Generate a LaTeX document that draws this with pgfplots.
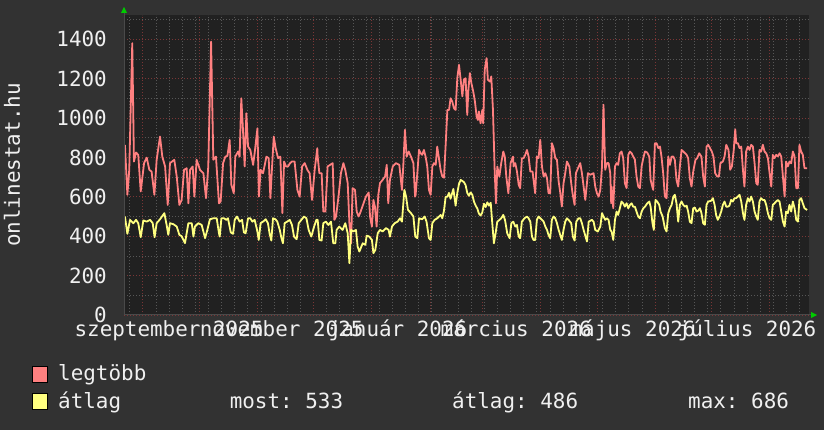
\documentclass[border=0pt]{standalone}
\usepackage{fontspec}
\setmainfont{DejaVu Sans Mono}
\usepackage{pgfplots}
\pgfplotsset{compat=1.18}
\usepackage{pgfplotstable}
\frenchspacing

\definecolor{canvas}{HTML}{323232}
\definecolor{plotbg}{HTML}{212121}
\definecolor{gridminor}{HTML}{575757}
\definecolor{gridmajor}{HTML}{7A3636}
\definecolor{fontc}{HTML}{F0F0F0}
\definecolor{axisc}{HTML}{4A4A4A}
\definecolor{maxc}{HTML}{FF8080}
\definecolor{avgc}{HTML}{FFFF80}
\definecolor{arrowc}{HTML}{00CC00}
\newcommand\rrdfont{\fontsize{21}{21}\selectfont}

% day 0 = 2025-08-22, one point per vertex
\pgfplotstableread{
day val
0.5 864
1.8 610
2.8 737
4.4 1380
5.3 779
6.4 825
7.6 813
8.9 627
10.7 771
12.1 799
13.5 737
14.7 728
16.2 610
17.4 788
19.2 906
20.4 804
21.9 754
23.3 559
24.5 771
26.8 788
28.1 703
29.5 559
30.7 584
32.0 737
33.4 745
34.3 567
35.2 737
36.6 754
37.5 601
38.7 788
40.5 737
42.3 720
43.7 593
44.9 754
46.4 1388
47.6 788
49.0 804
50.6 567
51.5 576
52.8 771
54.0 804
55.1 808
56.3 889
57.2 661
58.5 618
59.3 804
60.8 830
61.6 804
62.5 1100
63.4 940
64.3 754
65.2 1024
66.1 855
67.3 838
68.8 762
69.6 821
71.1 948
71.9 601
72.8 737
74.1 720
75.9 804
77.1 796
78.0 593
78.9 754
79.8 906
80.8 847
82.1 796
83.3 804
84.4 517
85.3 779
86.3 754
87.4 754
88.5 771
89.5 779
90.9 779
92.4 635
93.6 601
94.9 754
96.3 771
97.7 737
98.9 720
100.2 584
101.6 737
103.0 847
103.2 804
104.1 720
105.3 720
106.2 525
107.3 525
108.5 754
109.8 762
111.2 771
112.1 483
113.0 500
114.4 610
115.6 720
116.9 771
117.9 737
119.2 669
120.1 466
121.0 364
121.8 644
123.1 635
124.0 525
125.0 500
125.9 520
128.9 601
130.4 622
131.1 500
132.1 449
132.9 584
133.7 550
134.6 449
135.5 610
136.4 669
137.8 686
139.1 703
140.0 762
140.8 567
141.7 686
143.2 754
144.9 771
146.7 762
148.1 635
148.8 754
149.7 940
150.6 804
151.7 830
152.9 804
154.2 771
155.1 601
155.4 610
156.3 720
157.2 838
158.1 821
158.9 813
159.8 838
160.7 804
161.6 754
162.5 635
163.4 610
164.3 754
165.2 771
166.1 762
166.9 855
167.8 796
168.7 737
169.6 703
170.5 697
171.4 864
172.3 1041
173.2 1041
174.0 1100
174.9 1084
175.8 1050
176.7 1041
177.6 1202
178.5 1270
179.4 1194
180.3 1110
181.1 1194
182.0 1202
182.9 1016
183.5 1143
184.3 1228
185.1 1177
186.1 1134
187.0 1084
187.9 1007
188.6 990
189.1 1033
190.0 973
190.9 1041
191.4 973
192.2 1244
193.2 1304
193.9 1194
195.0 1185
195.7 1211
196.6 1041
197.5 737
198.2 567
198.9 754
200.0 703
201.0 771
202.1 830
202.9 804
203.7 703
204.8 618
206.0 771
207.3 804
207.6 754
208.5 771
209.4 728
210.3 661
211.1 644
212.0 796
212.9 796
213.8 813
214.7 838
215.6 804
216.5 728
217.7 728
219.1 618
220.0 804
220.9 796
221.8 889
222.7 754
223.6 703
224.5 720
225.4 694
226.2 618
227.1 618
228.0 872
228.9 847
229.8 796
230.7 788
231.6 678
232.5 618
233.3 551
234.2 669
235.1 720
236.0 779
237.3 754
238.3 669
239.0 618
240.1 559
240.8 720
241.9 745
243.1 771
244.0 720
244.9 652
245.8 584
247.2 720
248.4 712
250.2 720
251.1 652
252.0 618
252.9 601
253.8 635
254.7 754
255.5 1067
256.4 737
257.3 771
258.2 771
259.1 720
259.6 567
259.8 652
260.7 542
261.6 754
262.5 771
263.3 762
264.2 821
265.1 830
266.0 796
266.9 669
267.8 644
268.7 813
269.6 830
270.5 821
271.3 805
272.2 790
273.1 703
274.0 652
274.9 644
275.8 754
276.7 796
277.6 830
278.8 825
279.9 804
280.6 686
281.5 652
282.0 635
282.9 872
283.8 872
284.7 847
285.6 855
286.4 804
287.3 720
288.2 601
289.1 593
290.0 804
290.9 762
291.8 804
292.7 804
293.5 788
294.4 686
295.3 652
296.2 754
297.1 838
298.0 830
299.8 813
300.6 796
301.5 694
302.4 652
303.3 728
304.5 788
305.4 796
306.5 821
307.7 804
308.6 703
309.5 652
310.4 855
311.3 864
313.2 830
314.1 804
315.0 720
316.1 703
317.0 703
317.8 771
319.1 779
320.0 804
320.9 864
322.1 838
323.0 737
323.9 754
324.9 838
325.7 943
326.2 872
327.1 872
328.0 847
328.9 855
329.8 737
330.6 652
331.5 830
332.4 855
333.3 838
334.2 864
335.1 855
336.0 771
336.9 669
337.7 661
338.6 838
339.5 830
340.4 864
341.3 830
342.2 821
343.1 796
344.0 720
344.9 652
345.7 813
346.6 796
347.5 813
348.4 805
349.3 821
350.2 804
351.1 703
352.0 601
352.8 779
353.7 754
354.6 779
355.5 770
356.4 830
357.3 805
358.2 644
359.1 644
359.9 864
360.8 830
361.7 813
362.6 745
364.0 745
}\maxdata

\pgfplotstableread{
day val
0.5 500
1.8 412
3.2 483
5.0 466
6.4 483
7.6 466
8.9 395
10.3 480
12.1 474
13.9 483
15.3 466
16.3 395
17.4 466
19.2 486
21.5 517
22.7 458
23.6 407
24.5 466
26.3 461
28.1 449
29.5 407
30.7 400
32.5 365
34.3 466
36.1 466
37.0 398
37.8 449
39.6 466
41.4 457
43.2 390
44.4 432
45.8 486
47.6 491
49.4 491
50.6 415
51.0 398
51.9 491
53.3 491
54.5 483
55.4 491
56.9 419
58.1 412
59.0 483
60.2 500
61.6 474
62.9 483
63.9 419
64.8 415
66.1 491
67.3 491
68.4 474
69.6 483
70.9 432
71.8 381
72.8 466
74.1 474
75.5 486
76.7 466
77.6 412
78.5 378
79.4 491
80.7 486
81.7 474
83.0 432
83.9 390
84.7 364
85.6 466
86.9 474
88.3 483
89.5 457
90.6 398
92.0 385
93.1 466
94.5 483
95.9 500
97.2 491
98.4 432
99.8 398
101.3 449
102.5 483
103.2 483
104.1 381
105.3 378
106.2 466
107.6 474
108.9 457
110.3 474
111.5 364
112.6 364
113.3 432
114.7 449
116.5 432
117.9 466
119.2 415
120.1 263
121.0 432
122.2 424
123.6 432
124.5 347
125.4 322
127.2 364
128.6 356
129.3 403
130.7 398
132.1 381
132.9 314
133.9 330
135.2 415
136.4 432
137.8 424
139.6 441
141.0 432
141.7 398
142.8 449
144.2 466
145.8 474
147.1 491
148.1 474
149.4 635
150.3 601
151.3 534
152.9 517
154.2 500
155.2 398
156.3 390
157.2 491
158.9 486
160.2 500
161.2 474
162.5 390
163.4 381
164.3 466
165.5 483
166.9 491
168.7 508
169.6 491
170.5 530
171.4 600
172.3 600
173.2 620
174.0 590
175.5 640
176.7 555
177.6 620
178.5 665
179.4 686
180.3 680
181.1 675
182.0 660
182.9 620
183.8 605
184.7 622
185.6 610
186.5 575
187.4 555
188.3 540
189.1 515
190.0 505
190.9 520
191.8 565
192.7 548
193.6 572
194.5 555
195.4 570
196.2 470
197.1 364
198.0 415
198.9 474
200.1 483
201.0 491
202.1 508
203.0 483
204.2 415
205.5 390
206.4 466
207.4 474
208.5 449
209.4 457
210.3 398
211.1 390
212.0 474
213.4 491
214.7 500
215.6 491
216.5 474
217.4 398
218.2 381
219.1 381
220.0 483
220.9 500
221.8 491
222.7 483
223.6 474
224.5 449
225.4 432
226.2 407
227.1 390
228.0 483
228.9 500
229.8 491
230.7 466
231.6 432
233.3 381
234.2 432
235.1 474
236.0 491
236.9 483
238.3 466
239.2 398
240.1 378
241.0 474
242.2 491
243.1 491
244.0 466
244.9 432
246.7 373
247.6 474
249.3 483
250.2 474
251.1 432
252.5 424
253.8 449
254.7 517
255.5 500
256.4 483
257.3 491
258.2 483
259.1 432
259.8 424
260.7 381
261.6 483
262.5 525
263.3 508
264.2 542
265.1 576
266.0 567
266.9 550
267.8 567
268.7 542
269.6 559
270.5 567
271.3 550
272.2 550
273.1 525
274.0 500
274.9 491
275.8 525
276.7 542
277.6 550
278.8 567
279.9 576
280.6 550
281.6 466
282.3 432
283.2 584
284.1 576
285.2 559
285.9 525
287.0 500
288.2 441
289.1 424
290.0 517
290.9 542
291.8 559
292.7 601
293.5 610
294.4 567
295.3 474
296.2 559
297.1 576
298.0 559
298.9 550
299.8 555
300.6 525
301.5 474
302.4 466
303.3 542
304.2 545
305.1 525
306.0 530
306.9 542
307.7 517
308.6 466
309.5 458
310.4 559
311.3 576
312.9 580
313.8 593
314.7 559
315.5 508
316.4 483
317.3 500
318.2 525
319.1 559
320.0 576
320.9 550
321.8 550
322.6 555
323.5 584
324.4 576
325.3 593
326.2 593
327.1 601
328.0 610
328.9 576
329.8 517
330.6 483
331.5 559
332.4 593
333.3 576
334.2 601
335.1 576
336.0 525
336.9 500
337.7 483
338.6 576
339.5 593
340.4 584
341.3 584
342.2 559
343.1 517
344.0 491
344.9 483
345.7 559
346.6 567
347.5 576
348.4 584
349.3 576
350.2 525
351.1 474
352.0 449
352.8 525
353.7 517
354.6 559
355.5 525
356.4 576
357.3 542
358.2 483
359.1 474
359.9 584
360.8 593
361.7 567
362.6 542
364.0 533
}\avgdata

\begin{document}
\begin{tikzpicture}
\fill[canvas] (0,0) rectangle (824bp,430bp);

\begin{axis}[
    at={(124bp,115bp)}, anchor=south west,
    scale only axis, width=685bp, height=300bp,
    xmin=0, xmax=365, ymin=0, ymax=1523,
    axis line style={draw=none},
    axis background/.style={fill=plotbg},
    major tick length=0pt, minor tick length=0pt,
    ytick={0,200,...,1400},
    yticklabels={0,200,400,600,800,1000,1200,1400},
    minor ytick={100,300,...,1500},
    ymajorgrids, yminorgrids,
    xtick={24,84,146,209,271,332},
    xticklabels={szeptember 2025,november 2025,január 2026,március 2026,május 2026,július 2026},
    minor xtick={3,10,...,363},
    xminorgrids,
    extra x ticks={10,40,71,101,132,163,191,222,252,283,313,344},
    extra x tick labels={},
    extra x tick style={grid=major},
    major grid style={gridmajor, line width=0.8bp, dash pattern=on 1bp off 2bp},
    minor grid style={gridminor, line width=0.8bp, dash pattern=on 1bp off 2bp},
    tick label style={font=\rrdfont, color=fontc, inner sep=0pt},
    yticklabel style={anchor=east, xshift=-17bp},
    xticklabel style={anchor=base, yshift=-22bp},
]
\addplot[maxc, line width=1.8bp, line join=round] table[x=day, y=val] {\maxdata};
\addplot[avgc, line width=1.8bp, line join=round] table[x=day, y=val] {\avgdata};
\end{axis}

% axis lines and arrows
\draw[axisc, line width=1bp] (124bp,115bp) -- (124bp,417bp);
\draw[axisc, line width=1bp] (124bp,115bp) -- (811bp,115bp);
\fill[arrowc] (121bp,417bp) -- (127bp,417bp) -- (124bp,423bp) -- cycle;
\fill[arrowc] (811bp,112bp) -- (811bp,118bp) -- (817bp,115bp) -- cycle;

% y axis title
\node[rotate=90, font=\rrdfont, text=fontc, inner sep=0pt] at (12bp,265bp) {onlinestat.hu};

% legend
\draw[black, fill=maxc, line width=0.8bp] (32bp,48bp) rectangle (47bp,64bp);
\draw[black, fill=avgc, line width=0.8bp] (32bp,21bp) rectangle (47bp,37bp);
\begin{scope}[every node/.style={font=\rrdfont, text=fontc, inner sep=0pt, anchor=base west}]
\node at (58bp,49bp) {legtöbb};
\node at (58bp,22bp) {átlag};
\node at (229.6bp,22bp) {most: 533};
\node at (452bp,22bp) {átlag: 486};
\node at (688bp,22bp) {max: 686};
\end{scope}

\pgfresetboundingbox
\path (0,0) rectangle (824bp,430bp);
\end{tikzpicture}
\end{document}
